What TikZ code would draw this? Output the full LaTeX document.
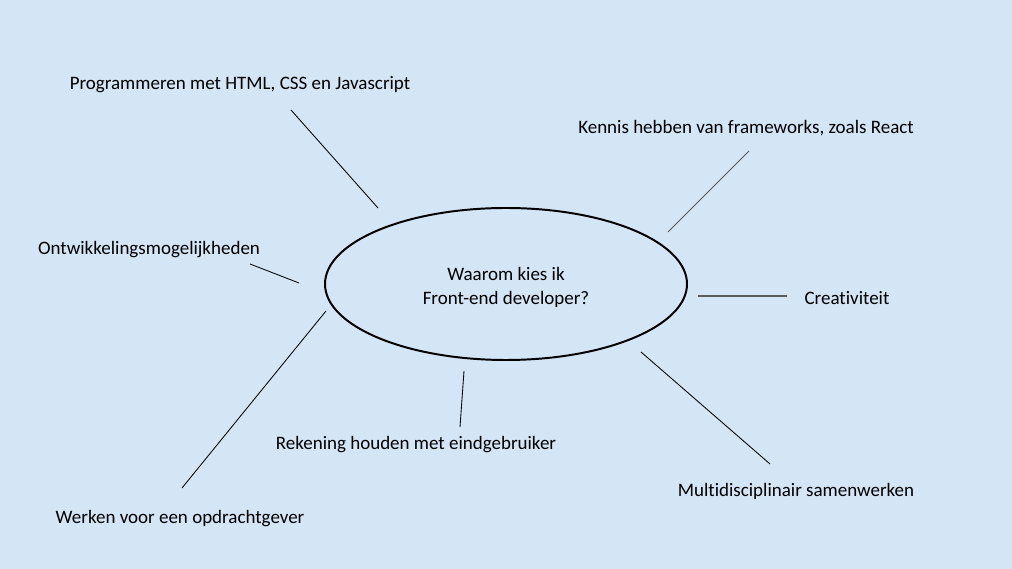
\documentclass[tikz,border=0pt]{standalone}
\usepackage{fontspec}
\setmainfont[Ligatures=NoCommon]{Carlito}
\usetikzlibrary{positioning, shapes}
\definecolor{achtergrond}{RGB}{212,229,245}
\definecolor{grijslijn}{RGB}{90,90,90}

\begin{document}
\begin{tikzpicture}[x=0.025cm, y=-0.025cm,
	lbl/.style={font=\fontsize{13.5}{16.5}\selectfont, text=black, inner sep=0pt},
	spaak/.style={draw=black, line width=0.6pt}]
	\fill[achtergrond] (0,0) rectangle (1012,569);
	\useasboundingbox (0,0) rectangle (1012,569);
	
	\node[draw, ellipse, line width=1.4pt, minimum width=362*0.025cm, minimum height=152*0.025cm,
	align=center, font=\fontsize{13.5}{17}\selectfont] (kern) at (506,284) {};
	\node[align=center, font=\fontsize{13.5}{17}\selectfont] (vraag) at (506,287) {Waarom kies ik\\Front-end developer?};
	
	\node[lbl] (prog) at (240,85) {Programmeren met HTML, CSS en Javascript};
	\node[lbl] (kennis) at (746,128) {Kennis hebben van frameworks, zoals React};
	\node[lbl] (ontw) at (149,250) {Ontwikkelingsmogelijkheden};
	\node[lbl] (crea) at (847,298) {Creativiteit};
	\node[lbl] (multi) at (796,491) {Multidisciplinair samenwerken};
	\node[lbl] (reken) at (416,445) {Rekening houden met eindgebruiker};
	\node[lbl] (werk) at (180,519) {Werken voor een opdrachtgever};
	
	% losse eindpunten van de spaken
	\coordinate (prog-a) at (291,110);  \coordinate (prog-b) at (378,208);
	\coordinate (kennis-a) at (749,151); \coordinate (kennis-b) at (668,232);
	\coordinate (ontw-a) at (250,264);  \coordinate (ontw-b) at (299,283);
	\coordinate (crea-a) at (787,296);  \coordinate (crea-b) at (698,296);
	\coordinate (multi-a) at (770,464); \coordinate (multi-b) at (641,352);
	\coordinate (reken-a) at (460,427); \coordinate (reken-b) at (464,371);
	\coordinate (werk-a) at (182,488);  \coordinate (werk-b) at (326,311);
	
	\draw[spaak] (prog-a) -- (prog-b);
	\draw[spaak, draw=grijslijn] (kennis-a) -- (kennis-b);
	\draw[spaak] (ontw-a) -- (ontw-b);
	\draw[spaak, draw=grijslijn, line width=0.9pt] (crea-a) -- (crea-b);
	\draw[spaak] (multi-a) -- (multi-b);
	\draw[spaak] (reken-a) -- (reken-b);
	\draw[spaak] (werk-a) -- (werk-b);
\end{tikzpicture}
\end{document}
